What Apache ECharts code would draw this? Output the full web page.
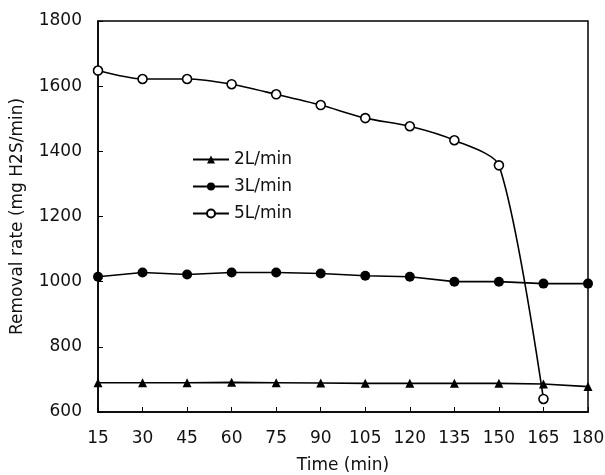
<!DOCTYPE html>
<html><head><meta charset="utf-8">
<script src="https://cdn.jsdelivr.net/npm/echarts@6/dist/echarts.min.js"></script>
<style>html,body{margin:0;padding:0;background:#fff}#c{width:605px;height:475px}</style>
</head><body><div id="c"></div>
<script>
const times = [15,30,45,60,75,90,105,120,135,150,165,180];
const s2L = [690,690,690,691,690,689,688,688,688,688,686,678];
const s3L = [1015,1028,1022,1028,1028,1025,1018,1015,1000,1000,994,994];
const s5L = [1648,1622,1622,1606,1575,1542,1502,1477,1434,1357,640];
const names = ['2L/min','3L/min','5L/min'];
const yTicks = [600,800,1000,1200,1400,1600,1800];

const pair = (xs, ys) => ys.map((v,i)=>[xs[i], v]);
const font = 'DejaVu Sans, sans-serif';
const txt = {fontFamily:font,fontSize:17,color:'#111'};
const chart = echarts.init(document.getElementById('c'));
const lineStyle = {color:'#000', width:1.6};
chart.setOption({
  animation:false,
  grid:{left:98,right:17,top:21,bottom:63,show:true,borderColor:'#000',borderWidth:1.5,
        containLabel:false,outerBoundsMode:'none'},
  legend:{
    data:names, orient:'vertical', left:187, top:146, itemGap:10, itemWidth:36, itemHeight:10,
    textStyle:txt
  },
  xAxis:{
    type:'value', min:15, max:180, interval:15,
    name:'Time (min)', nameLocation:'middle', nameGap:45,
    nameTextStyle:txt,
    axisLine:{lineStyle:{color:'#000',width:1.5}},
    axisTick:{inside:true,length:5,lineStyle:{color:'#000'}},
    axisLabel:Object.assign({margin:18},txt),
    splitLine:{show:false}
  },
  yAxis:{
    type:'value', min:600, max:1800, interval:200,
    name:'Removal rate (mg H2S/min)', nameLocation:'middle', nameGap:72,
    nameTextStyle:txt,
    axisLine:{lineStyle:{color:'#000',width:1.5}},
    axisTick:{inside:true,length:5,lineStyle:{color:'#000'}},
    axisLabel:Object.assign({margin:16,formatter:v=>yTicks.includes(v)?String(v):''},txt),
    splitLine:{show:false}
  },
  series:[
    {name:names[0],type:'line',data:pair(times,s2L),symbol:'triangle',symbolSize:9,
     itemStyle:{color:'#000'},lineStyle:lineStyle},
    {name:names[1],type:'line',data:pair(times,s3L),symbol:'circle',symbolSize:10,
     itemStyle:{color:'#000'},lineStyle:lineStyle},
    {name:names[2],type:'line',data:pair(times,s5L),symbol:'circle',symbolSize:9,smooth:0.25,
     itemStyle:{color:'#fff',borderColor:'#000',borderWidth:1.6},lineStyle:lineStyle}
  ]
});
</script></body></html>
